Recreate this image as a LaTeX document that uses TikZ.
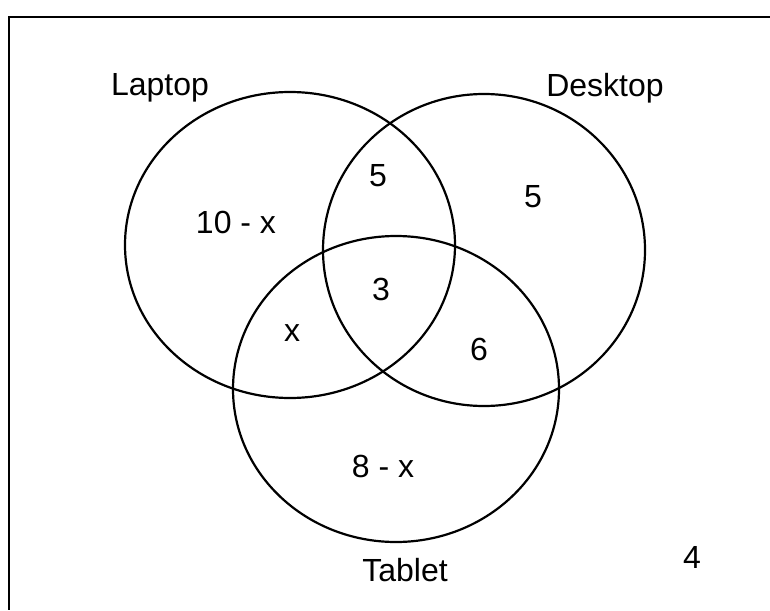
\documentclass[tikz,border=0pt]{standalone}
\usepackage{fontspec}
\setmainfont{Liberation Sans}

\tikzset{
  setlbl/.style={font=\fontsize{16}{19}\selectfont, inner sep=0pt},
  setline/.style={line width=1.1pt}
}

\begin{document}
\begin{tikzpicture}[x=0.5pt,y=-0.5pt]

    \useasboundingbox (0,0) rectangle (770,610);
    \draw[setline] (770,17) -- (9,17) -- (9,610);

    \draw[setline] (290,245) ellipse (165 and 153);
    \draw[setline] (484,250) ellipse (161 and 156);
    \draw[setline] (396,389) ellipse (163 and 153);

    \node[setlbl] (laptop) at (160,88) {Laptop};
    \node[setlbl] (desktop) at (605,88) {Desktop};
    \node[setlbl] (tablet) at (405,570) {Tablet};

    \node[setlbl] (lonly) at (236,222) {10 - x};
    \node[setlbl] (ld) at (378,176) {5};
    \node[setlbl] (donly) at (533,197) {5};
    \node[setlbl] (ldt) at (381,289) {3};
    \node[setlbl] (lt) at (292,333) {x};
    \node[setlbl] (dt) at (479,349) {6};
    \node[setlbl] (tonly) at (383,466) {8 - x};
    \node[setlbl] (none) at (692,557) {4};

\end{tikzpicture}
\end{document}
